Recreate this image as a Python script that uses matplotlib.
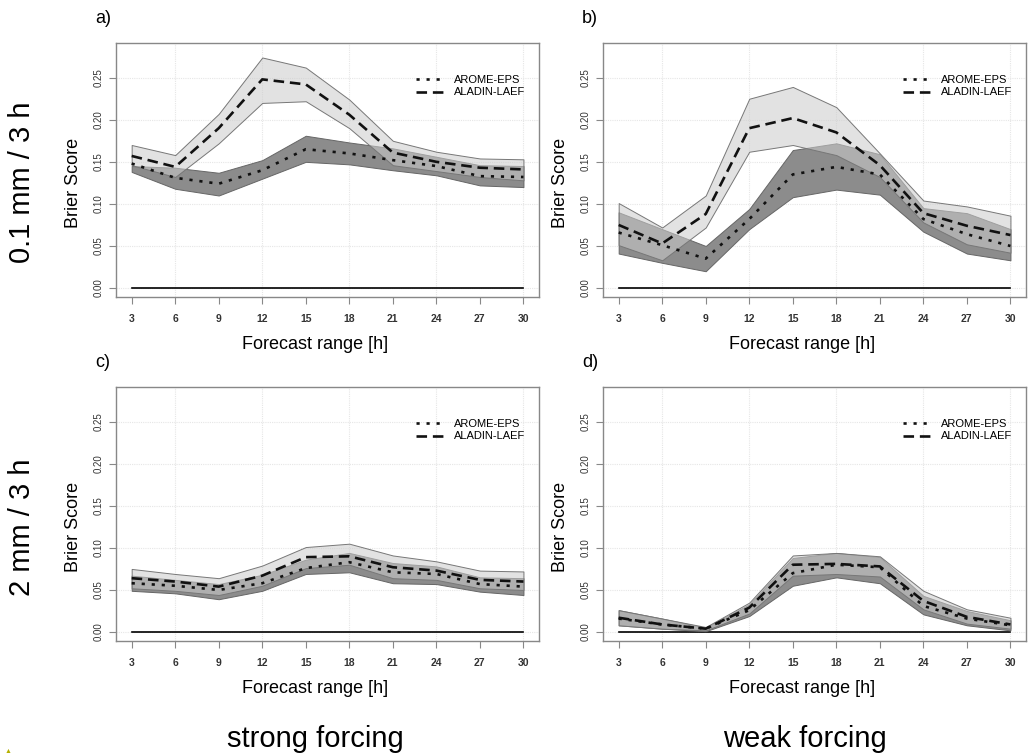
import matplotlib
matplotlib.use('Agg')
import matplotlib.pyplot as plt

plt.rcParams['font.family'] = ['Liberation Sans', 'DejaVu Sans']

# forecast lead times
hours = [3, 6, 9, 12, 15, 18, 21, 24, 27, 30]

# a) 0.1 mm / 3 h, strong forcing
a_arome = [0.148, 0.131, 0.124, 0.140, 0.165, 0.160, 0.152, 0.145, 0.133, 0.132]
a_arome_lo = [0.138, 0.118, 0.110, 0.130, 0.150, 0.147, 0.140, 0.134, 0.122, 0.120]
a_arome_hi = [0.145, 0.143, 0.137, 0.152, 0.181, 0.173, 0.166, 0.156, 0.146, 0.145]
a_aladin = [0.157, 0.144, 0.190, 0.248, 0.242, 0.206, 0.161, 0.150, 0.143, 0.141]
a_aladin_lo = [0.146, 0.132, 0.172, 0.220, 0.222, 0.190, 0.146, 0.139, 0.132, 0.128]
a_aladin_hi = [0.170, 0.158, 0.207, 0.274, 0.262, 0.224, 0.175, 0.162, 0.154, 0.153]

# b) 0.1 mm / 3 h, weak forcing
b_arome = [0.066, 0.051, 0.035, 0.082, 0.135, 0.144, 0.135, 0.082, 0.064, 0.050]
b_arome_lo = [0.041, 0.030, 0.020, 0.070, 0.108, 0.117, 0.111, 0.067, 0.041, 0.033]
b_arome_hi = [0.090, 0.070, 0.050, 0.094, 0.164, 0.172, 0.159, 0.095, 0.089, 0.070]
b_aladin = [0.075, 0.053, 0.088, 0.190, 0.202, 0.185, 0.146, 0.089, 0.074, 0.063]
b_aladin_lo = [0.051, 0.033, 0.072, 0.162, 0.170, 0.158, 0.132, 0.078, 0.052, 0.042]
b_aladin_hi = [0.101, 0.072, 0.110, 0.225, 0.239, 0.215, 0.160, 0.104, 0.097, 0.086]

# c) 2 mm / 3 h, strong forcing
c_arome = [0.058, 0.055, 0.050, 0.058, 0.076, 0.083, 0.071, 0.069, 0.057, 0.054]
c_arome_lo = [0.049, 0.046, 0.039, 0.049, 0.069, 0.071, 0.058, 0.057, 0.048, 0.044]
c_arome_hi = [0.067, 0.062, 0.057, 0.068, 0.086, 0.094, 0.082, 0.078, 0.065, 0.064]
c_aladin = [0.064, 0.060, 0.054, 0.067, 0.089, 0.090, 0.077, 0.073, 0.062, 0.060]
c_aladin_lo = [0.052, 0.049, 0.044, 0.055, 0.076, 0.080, 0.064, 0.062, 0.052, 0.050]
c_aladin_hi = [0.075, 0.069, 0.064, 0.079, 0.101, 0.105, 0.091, 0.084, 0.073, 0.072]

# d) 2 mm / 3 h, weak forcing
d_arome = [0.016, 0.009, 0.004, 0.026, 0.070, 0.080, 0.077, 0.031, 0.016, 0.008]
d_arome_lo = [0.008, 0.004, 0.001, 0.019, 0.055, 0.065, 0.058, 0.021, 0.008, 0.002]
d_arome_hi = [0.026, 0.016, 0.005, 0.033, 0.088, 0.094, 0.089, 0.043, 0.025, 0.014]
d_aladin = [0.017, 0.009, 0.004, 0.029, 0.080, 0.081, 0.078, 0.037, 0.018, 0.009]
d_aladin_lo = [0.008, 0.004, 0.002, 0.022, 0.067, 0.069, 0.066, 0.027, 0.010, 0.004]
d_aladin_hi = [0.026, 0.016, 0.006, 0.035, 0.091, 0.094, 0.090, 0.049, 0.027, 0.017]

panels = [
    ('a)', a_arome, a_arome_lo, a_arome_hi, a_aladin, a_aladin_lo, a_aladin_hi),
    ('b)', b_arome, b_arome_lo, b_arome_hi, b_aladin, b_aladin_lo, b_aladin_hi),
    ('c)', c_arome, c_arome_lo, c_arome_hi, c_aladin, c_aladin_lo, c_aladin_hi),
    ('d)', d_arome, d_arome_lo, d_arome_hi, d_aladin, d_aladin_lo, d_aladin_hi),
]

yticks = [0.0, 0.05, 0.10, 0.15, 0.20, 0.25]

fig = plt.figure(figsize=(10.32, 7.56), dpi=100)

# axes positions in figure fraction
lefts = [0.1124, 0.5843]
bottoms = [0.6065, 0.1515]
w, h = 0.410, 0.3366

for i, (lab, ar, ar_lo, ar_hi, al, al_lo, al_hi) in enumerate(panels):
    row, col = divmod(i, 2)
    ax = fig.add_axes([lefts[col], bottoms[row], w, h])

    # faint grid
    for gx in [6, 12, 18, 24, 30]:
        ax.axvline(gx, color='#e6e6e6', lw=0.8, ls=(0, (1, 1)), zorder=0)
    for gy in yticks:
        ax.axhline(gy, color='#e6e6e6', lw=0.8, ls=(0, (1, 1)), zorder=0)

    ax.plot([3, 30], [0, 0], color='black', lw=1.2, zorder=1)

    # bands: dark first, light on top with transparency
    ax.fill_between(hours, ar_lo, ar_hi, facecolor='#8c8c8c', edgecolor='#666666',
                    lw=0.7, zorder=2)
    ax.fill_between(hours, al_lo, al_hi, facecolor=(0.80, 0.80, 0.80, 0.56),
                    edgecolor='#777777', lw=0.7, zorder=3)

    ax.plot(hours, ar, color='#111111', lw=1.9, ls=(0, (1.2, 2.6)), label='AROME-EPS', zorder=4)
    ax.plot(hours, al, color='#111111', lw=1.9, ls=(0, (4, 2.2)), label='ALADIN-LAEF', zorder=5)

    ax.set_xlim(1.92, 31.08)
    ax.set_ylim(-0.0112, 0.2912)
    ax.set_xticks(hours)
    ax.set_xticklabels([str(x) for x in hours], fontsize=7.5, fontweight='bold', color='#333333')
    ax.set_yticks(yticks)
    ax.set_yticklabels(['%.2f' % y for y in yticks], fontsize=7, rotation=90,
                       va='center', color='#333333')
    ax.tick_params(direction='out', length=5, color='#888888', width=0.8)
    ax.tick_params(axis='x', pad=7)
    ax.tick_params(axis='y', pad=4)
    for sp in ax.spines.values():
        sp.set_color('#888888')
        sp.set_linewidth(1.0)

    ax.set_xlabel('Forecast range [h]', fontsize=13, va='center')
    ax.xaxis.set_label_coords(0.47, -0.185)
    ax.set_ylabel('Brier Score', fontsize=13, va='center')
    ax.yaxis.set_label_coords(-0.10, 0.45)

    ax.legend(loc='upper right', bbox_to_anchor=(0.99, 0.915), frameon=False, fontsize=8,
              handlelength=2.6, handletextpad=0.8, labelspacing=0.25)

    ax.text(-0.05, 1.098, lab, transform=ax.transAxes, fontsize=13, ha='left', va='center')

# row and column annotations
fig.text(0.021, 0.759, '0.1 mm / 3 h', rotation=90, fontsize=21, ha='center', va='center')
fig.text(0.021, 0.303, '2 mm / 3 h', rotation=90, fontsize=21, ha='center', va='center')
fig.text(0.306, 0.012, 'strong forcing', fontsize=21, ha='center', va='baseline')
fig.text(0.780, 0.012, 'weak forcing', fontsize=21, ha='center', va='baseline')
fig.text(0.004, 0.001, '\u25b2', color='#b5b000', fontsize=5, ha='left', va='bottom')

fig.savefig('out.png', dpi=100)
